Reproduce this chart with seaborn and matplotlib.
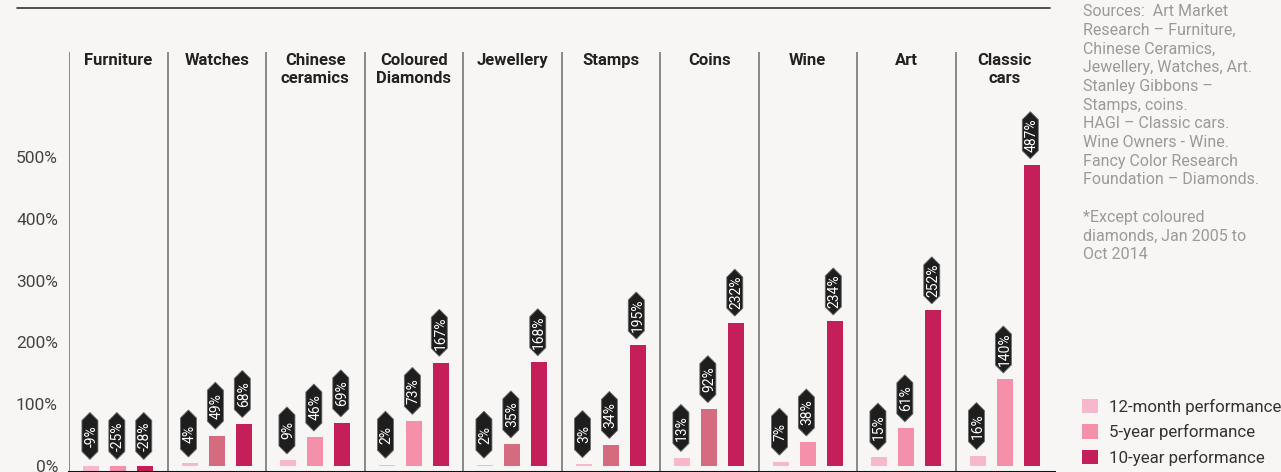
import pandas as pd
import seaborn as sns
import matplotlib.pyplot as plt
from matplotlib.path import Path
from matplotlib.lines import Line2D
from matplotlib.transforms import blended_transform_factory

# data
categories = ["Furniture", "Watches", "Chinese\nceramics", "Coloured\nDiamonds", "Jewellery",
              "Stamps", "Coins", "Wine", "Art", "Classic\ncars"]
perf_12m = [-9, 4, 9, 2, 2, 3, 13, 7, 15, 16]
perf_5y = [-25, 49, 46, 73, 35, 34, 92, 38, 61, 140]
perf_10y = [-28, 68, 69, 167, 168, 195, 232, 234, 252, 487]
periods = ["12-month performance", "5-year performance", "10-year performance"]
colors = ["#f7b8cd", "#f490a9", "#c41f59"]
dark_5y = ["Watches", "Jewellery", "Stamps", "Coins"]   # these 5-year bars are a darker rose
dark_5y_color = "#d56b7e"
yticks = [0, 100, 200, 300, 400, 500]

sources = ("Sources:  Art Market\nResearch – Furniture,\nChinese Ceramics,\n"
           "Jewellery, Watches, Art.\nStanley Gibbons –\nStamps, coins.\n"
           "HAGI – Classic cars.\nWine Owners - Wine.\nFancy Color Research\n"
           "Foundation – Diamonds.\n\n*Except coloured\ndiamonds, Jan 2005 to\nOct 2014")

df = pd.DataFrame({
    "category": categories * 3,
    "period": [p for p in periods for _ in categories],
    "value": perf_12m + perf_5y + perf_10y,
})

bg = "#f7f6f4"
sns.set_theme(style="white", rc={"figure.facecolor": bg, "axes.facecolor": bg})
plt.rcParams["font.family"] = ["Roboto", "DejaVu Sans"]

W, H = 1281, 472
fig = plt.figure(figsize=(W / 100, H / 100), dpi=100)
ax = fig.add_axes([69 / W, 0, (1054 - 69) / W, 420 / H])

sns.barplot(data=df, x="category", y="value", hue="period", order=categories,
            hue_order=periods, palette=colors, saturation=1, width=0.82, gap=0.41,
            errorbar=None, linewidth=0, ax=ax)

# recolor the darker 5-year bars
for bar in ax.containers[1]:
    idx = int(round(bar.get_x() + bar.get_width() / 2))
    if categories[idx].replace("\n", " ") in dark_5y:
        bar.set_facecolor(dark_5y_color)


def badge(x0, y0, width, height, mutation_size):
    # elongated hexagon, fixed size in pixels
    cx = x0 + width / 2
    cy = y0 + height / 2 + 0.1 * mutation_size
    a, b, t = 23.5, 8, 8
    verts = [(cx - a, cy), (cx - a + t, cy - b), (cx + a - t, cy - b), (cx + a, cy),
             (cx + a - t, cy + b), (cx - a + t, cy + b), (cx - a, cy)]
    return Path(verts, closed=True)


for cont, vals in zip(ax.containers, [perf_12m, perf_5y, perf_10y]):
    for bar, v in zip(cont, vals):
        ax.annotate(f"{v}%", xy=(bar.get_x() + bar.get_width() / 2, max(v, 0)),
                    xytext=(0, 21.5), textcoords="offset points", rotation=90,
                    rotation_mode="anchor", ha="center", va="center", color="white",
                    fontsize=10,
                    bbox=dict(boxstyle=badge, fc="#1e1e1e", ec="#6a6a6a", lw=0.6))

ax.set_xlim(-0.5, len(categories) - 0.5)
ax.set_ylim(-10, 670)
ax.set_yticks(yticks)
ax.set_yticklabels([f"{t}%" for t in yticks])
ax.tick_params(axis="y", length=0, pad=8, labelsize=12.5, labelcolor="#444")
ax.set_xticks([])
ax.set_xlabel("")
ax.set_ylabel("")
for s in ["left", "right", "top"]:
    ax.spines[s].set_visible(False)
ax.spines["bottom"].set_color("#111")
ax.spines["bottom"].set_linewidth(2.2)

for i in range(len(categories)):
    ax.axvline(i - 0.5, color="#808080", lw=1.3, zorder=0)

trans = blended_transform_factory(ax.transData, ax.transAxes)
for i, name in enumerate(categories):
    ax.text(i, 1 - 1 / 420, name, transform=trans, ha="center", va="top",
            fontsize=12, fontweight="bold", color="#222", linespacing=1.28)

handles = ax.get_legend().legend_handles
ax.get_legend().remove()
fig.legend(handles, periods, loc="lower left", bbox_to_anchor=(1082 / W, 6 / H),
           bbox_transform=fig.transFigure, frameon=False, fontsize=12.2,
           labelcolor="#333", handlelength=0.95, handleheight=0.95,
           handletextpad=0.62, labelspacing=0.56, borderpad=0, borderaxespad=0)

fig.add_artist(Line2D([17 / W, 1050 / W], [1 - 8 / H, 1 - 8 / H], color="#333", lw=1.2))
fig.text(1083 / W, 1 - 4 / H, sources, ha="left", va="top", fontsize=11.5,
         color="#9a9a9a", linespacing=1.31)

fig.savefig("out.png", dpi=100, facecolor=bg)
